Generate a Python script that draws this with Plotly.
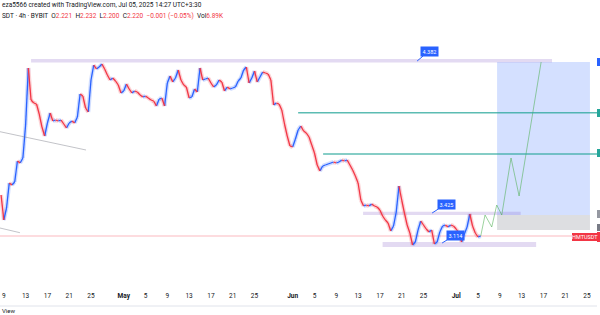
import pandas as pd
import plotly.graph_objects as go

# ---- data ----
start_time = "2025-04-08 12:00"
price = [2.425, 2.300, 2.360, 2.485, 2.475, 2.490, 2.595, 2.585, 2.610, 2.775,
         3.060, 2.900, 2.885, 2.880, 2.830, 2.765, 2.720, 2.785, 2.835, 2.795,
         2.800, 2.795, 2.800, 2.780, 2.760, 2.785, 2.795, 2.785, 2.815, 2.930,
         2.920, 2.860, 2.840, 3.000, 3.075, 3.055, 3.065, 3.080, 3.055, 3.025,
         3.000, 3.010, 2.995, 2.975, 2.935, 2.945, 2.980, 2.955, 2.935, 2.945,
         2.940, 2.925, 2.915, 2.920, 2.910, 2.900, 2.895, 2.870, 2.905, 2.910,
         2.870, 2.985, 3.020, 2.990, 3.010, 3.050, 3.000, 2.975, 2.965, 2.910,
         2.915, 2.955, 2.940, 3.060, 3.000, 3.005, 3.010, 2.985, 2.965, 2.975,
         3.000, 2.990, 2.945, 2.965, 2.955, 2.960, 2.965, 2.995, 3.010, 3.050,
         3.065, 2.985, 3.010, 3.045, 2.990, 3.015, 3.040, 3.035, 3.030, 3.000,
         2.875, 2.885, 2.880, 2.850, 2.780, 2.720, 2.670, 2.665, 2.705, 2.750,
         2.770, 2.745, 2.735, 2.715, 2.675, 2.635, 2.575, 2.545, 2.570, 2.575,
         2.580, 2.585, 2.590, 2.585, 2.590, 2.600, 2.595, 2.600, 2.575, 2.550,
         2.520, 2.485, 2.400, 2.370, 2.375, 2.370, 2.380, 2.370, 2.365, 2.350,
         2.320, 2.300, 2.285, 2.245, 2.270, 2.340, 2.470, 2.400, 2.335, 2.275,
         2.235, 2.175, 2.190, 2.250, 2.295, 2.275, 2.255, 2.240, 2.250, 2.180,
         2.190, 2.240, 2.270, 2.275, 2.265, 2.275, 2.270, 2.255, 2.235, 2.190,
         2.230, 2.265, 2.330, 2.270, 2.235, 2.215, 2.220]

proj_time = ["2025-07-05 12:00", "2025-07-06 07:00", "2025-07-07 12:30", "2025-07-08 10:30",
             "2025-07-09 08:40", "2025-07-11 01:30", "2025-07-12 13:00", "2025-07-16 14:00"]
proj_price = [2.220, 2.325, 2.265, 2.375, 2.325, 2.610, 2.420, 3.090]

last_price = 2.220
target_level = 3.090
entry_level = 2.325
stop_level = 2.250
tp1_level = 2.836
tp2_level = 2.630

tick_dates = ["2025-04-09", "2025-04-13", "2025-04-17", "2025-04-21", "2025-04-25",
              "2025-05-01", "2025-05-05", "2025-05-09", "2025-05-13", "2025-05-17", "2025-05-21", "2025-05-25",
              "2025-06-01", "2025-06-05", "2025-06-09", "2025-06-13", "2025-06-17", "2025-06-21", "2025-06-25",
              "2025-07-01", "2025-07-05", "2025-07-09", "2025-07-13", "2025-07-17", "2025-07-21", "2025-07-25"]
tick_text = ["9", "13", "17", "21", "25", "<b>May</b>", "5", "9", "13", "17", "21", "25",
             "<b>Jun</b>", "5", "9", "13", "17", "21", "25",
             "<b>Jul</b>", "5", "9", "13", "17", "21", "25"]

BLUE = "#2962FF"
RED = "#F23645"

times = pd.date_range(start_time, periods=len(price), freq="12h")

ux, uy, dx, dy = [], [], [], []
for i in range(1, len(price)):
    seg_x = [times[i - 1], times[i], None]
    seg_y = [price[i - 1], price[i], None]
    if price[i] >= price[i - 1]:
        ux += seg_x; uy += seg_y
    else:
        dx += seg_x; dy += seg_y

fig = go.Figure()

BOX_X0, BOX_X1 = "2025-07-08 12:00", "2025-07-25 13:00"
shapes = []
# target (blue) & stop (grey) boxes
shapes.append(dict(type="rect", x0=BOX_X0, x1=BOX_X1, y0=entry_level, y1=target_level,
                   fillcolor="rgba(41,98,255,0.2)", line_width=0, layer="below"))
shapes.append(dict(type="rect", x0=BOX_X0, x1=BOX_X1, y0=stop_level, y1=entry_level,
                   fillcolor="rgba(120,123,134,0.25)", line_width=0, layer="below"))
# purple bands
shapes.append(dict(type="rect", x0="2025-04-14 00:00", x1="2025-07-18 14:00", y0=3.0875, y1=3.105,
                   fillcolor="rgba(126,87,194,0.22)", line_width=0, layer="below"))
shapes.append(dict(type="rect", x0="2025-06-13 22:00", x1="2025-07-12 20:00", y0=2.325, y1=2.3415,
                   fillcolor="rgba(126,87,194,0.22)", line_width=0, layer="below"))
shapes.append(dict(type="rect", x0="2025-06-17 12:00", x1="2025-07-15 16:00", y0=2.165, y1=2.19,
                   fillcolor="rgba(126,87,194,0.22)", line_width=0, layer="below"))
# teal lines
shapes.append(dict(type="line", x0="2025-06-02 00:00", x1="2025-07-28 00:00", y0=tp1_level, y1=tp1_level,
                   line=dict(color="rgba(38,166,154,0.75)", width=1.5)))
shapes.append(dict(type="line", x0="2025-06-06 14:00", x1="2025-07-28 00:00", y0=tp2_level, y1=tp2_level,
                   line=dict(color="rgba(38,166,154,0.75)", width=1.5)))
# current price line
shapes.append(dict(type="line", xref="paper", x0=0, x1=1, y0=last_price, y1=last_price,
                   line=dict(color="rgba(242,54,69,0.35)", width=1), layer="below"))
# grey trend lines
shapes.append(dict(type="line", x0="2025-04-08 07:00", x1="2025-04-24 02:00", y0=2.7415, y1=2.65,
                   line=dict(color="rgba(120,123,134,0.45)", width=1)))
shapes.append(dict(type="line", x0="2025-04-08 07:00", x1="2025-04-11 23:00", y0=2.26, y1=2.2365,
                   line=dict(color="rgba(120,123,134,0.45)", width=1)))

# soft halo (mimics candle wicks)
fig.add_trace(go.Scatter(x=ux, y=uy, mode="lines", line=dict(color="rgba(41,98,255,0.22)", width=4),
                         hoverinfo="skip"))
fig.add_trace(go.Scatter(x=dx, y=dy, mode="lines", line=dict(color="rgba(242,54,69,0.22)", width=4),
                         hoverinfo="skip"))
fig.add_trace(go.Scatter(x=ux, y=uy, mode="lines", line=dict(color=BLUE, width=1.3), hoverinfo="skip"))
fig.add_trace(go.Scatter(x=dx, y=dy, mode="lines", line=dict(color=RED, width=1.3), hoverinfo="skip"))
fig.add_trace(go.Scatter(x=proj_time, y=proj_price, mode="lines",
                         line=dict(color="rgba(76,175,80,0.55)", width=1), hoverinfo="skip"))

W, H = 600, 315
ML, MR, MT, MB = 0, 3, 0, 25
PW, PH = W - ML - MR, H - MT - MB


def px(xp):
    return (xp - ML) / PW


def py(yp):
    return (H - MB - yp) / PH


# right-hand scale markers
for (y0, y1, col) in [(58, 66, BLUE), (109, 117, "#26A69A"), (149, 157, "#26A69A"),
                      (210, 218, "#9598A1"), (224, 231, "#787B86"), (232, 242, RED)]:
    shapes.append(dict(type="rect", xref="paper", yref="paper", x0=px(597), x1=px(603),
                       y0=py(y1), y1=py(y0), fillcolor=col, line_width=0))
shapes.append(dict(type="rect", xref="paper", yref="paper", x0=px(572), x1=px(597),
                   y0=py(241), y1=py(233), fillcolor=RED, line_width=0))
# bottom separator
shapes.append(dict(type="line", xref="paper", yref="paper", x0=0, x1=1, y0=py(306), y1=py(306),
                   line=dict(color="#E0E3EB", width=1)))

ann = []
ann.append(dict(xref="paper", yref="paper", x=px(584.5), y=py(237), text="HMTUSDT", showarrow=False,
                xanchor="center", yanchor="middle",
                font=dict(size=5.5, color="#FFFFFF", family="Roboto")))
for txt, xv, yv, axv, ayv in [("4.382", "2025-06-23 20:00", 3.095, 12, -10),
                               ("3.425", "2025-06-26 14:00", 2.335, 14, -9),
                               ("3.114", "2025-06-28 10:00", 2.185, 13, -8)]:
    ann.append(dict(x=xv, y=yv, text=txt, showarrow=True, arrowhead=0, arrowwidth=1, arrowcolor=BLUE,
                    ax=axv, ay=ayv, bgcolor=BLUE, borderpad=1.5, xanchor="center", yanchor="middle",
                    font=dict(size=5.5, color="white", family="Roboto")))
ann.append(dict(xref="paper", yref="paper", x=0, y=py(5), xanchor="left", yanchor="middle",
                text="eza5566 created with TradingView.com, Jul 05, 2025 14:27 UTC+3:30", showarrow=False,
                font=dict(size=6.5, color="#131722", family="Roboto")))
r = lambda s: f"<span style='color:{RED}'>{s}</span>"
hdr = ("SDT · 4h · BYBIT  O" + r("2.221") + "  H" + r("2.232") + "  L" + r("2.200") + "  C" + r("2.220")
       + "  " + r("−0.001 (−0.05%)") + "  Vol" + r("6.89K"))
ann.append(dict(xref="paper", yref="paper", x=0, y=py(15.5), xanchor="left", yanchor="middle",
                text=hdr, showarrow=False, font=dict(size=6.5, color="#131722", family="Roboto")))
ann.append(dict(xref="paper", yref="paper", x=0, y=py(310), xanchor="left", yanchor="middle",
                text="View", showarrow=False, font=dict(size=6, color="#131722", family="Roboto")))

fig.update_layout(
    width=W, height=H, margin=dict(l=ML, r=MR, t=MT, b=MB),
    paper_bgcolor="white", plot_bgcolor="white", showlegend=False,
    shapes=shapes, annotations=ann,
    xaxis=dict(type="date", range=["2025-04-08 07:15", "2025-07-26 20:00"], showgrid=False,
               zeroline=False, showline=False, tickmode="array", tickvals=tick_dates, ticktext=tick_text,
               ticks="", tickfont=dict(size=6.5, color="#131722", family="Roboto")),
    yaxis=dict(range=[1.95, 3.40], visible=False, showgrid=False, zeroline=False),
)

fig.write_html("out.html")
